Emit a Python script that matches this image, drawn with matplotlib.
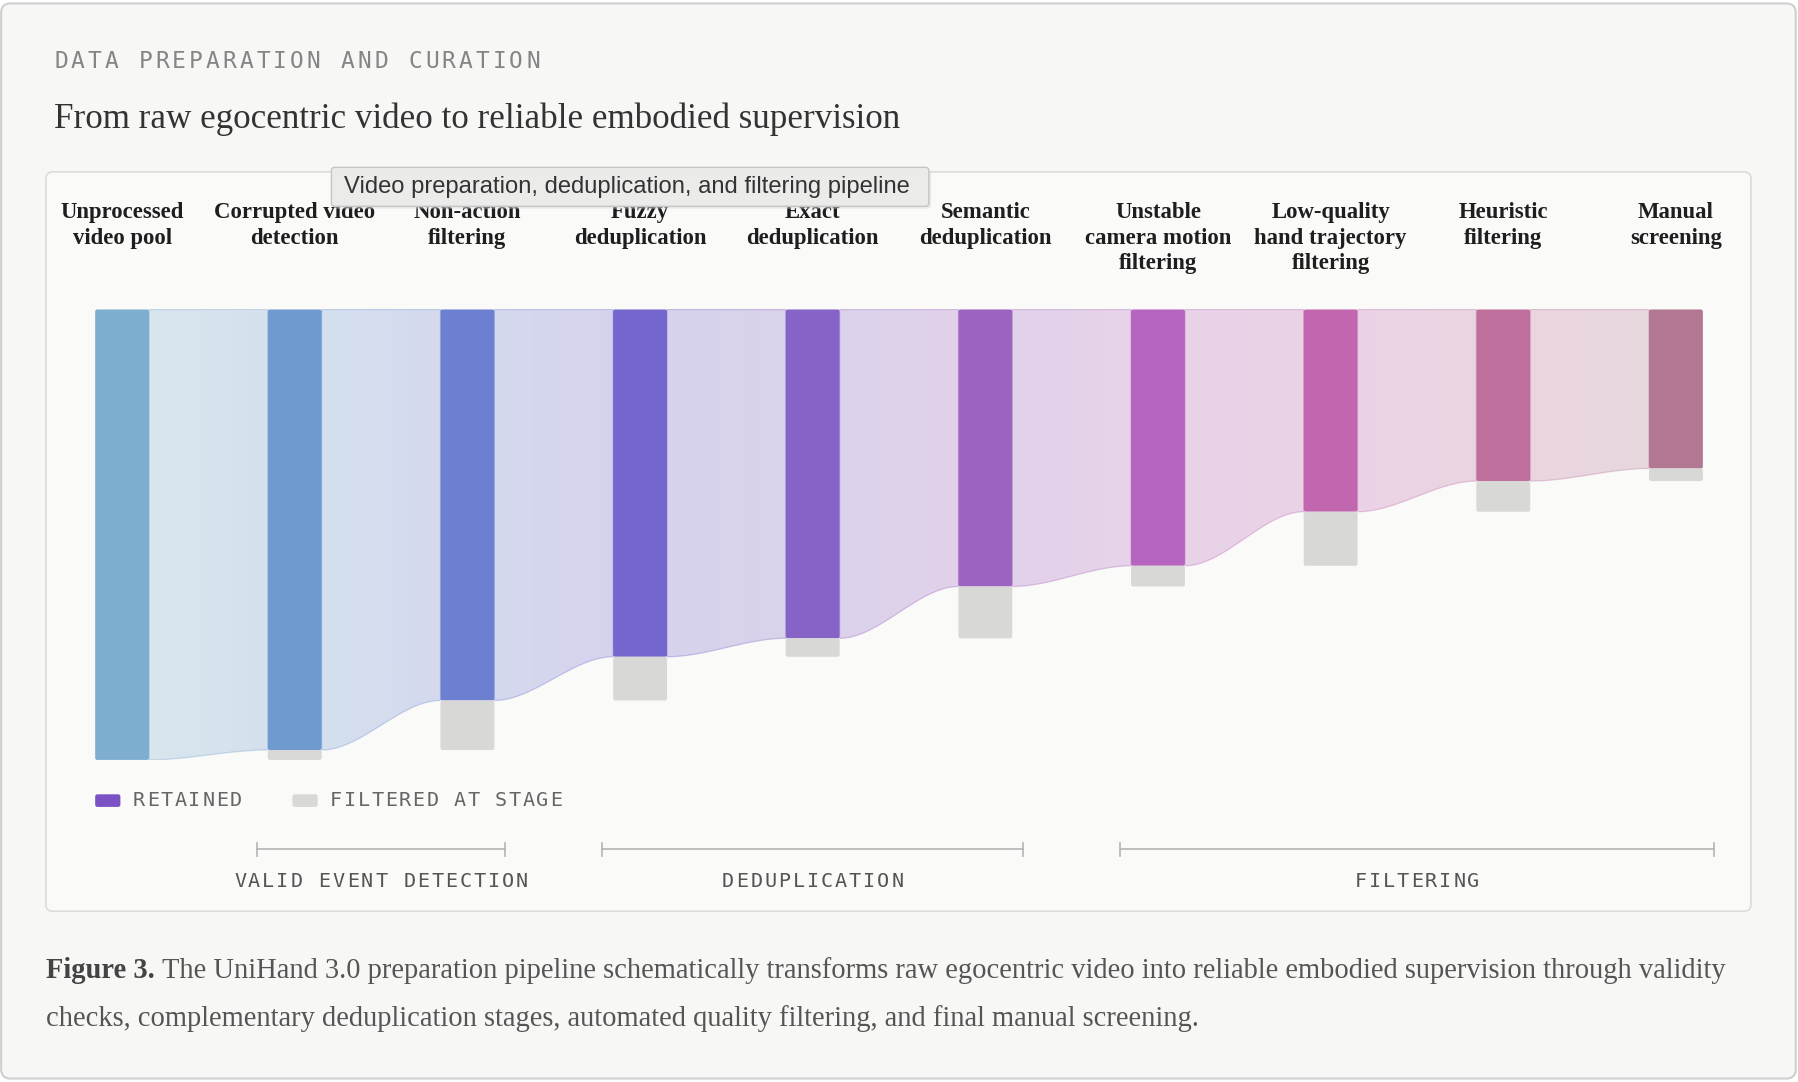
import matplotlib
matplotlib.use("Agg")
import matplotlib.pyplot as plt
import numpy as np
from matplotlib.patches import FancyBboxPatch, Polygon
from matplotlib.colors import to_rgb
from matplotlib.transforms import blended_transform_factory

# ---------------- data ----------------
stages = ["Unprocessed\nvideo pool", "Corrupted video\ndetection", "Non-action\nfiltering",
          "Fuzzy\ndeduplication", "Exact\ndeduplication", "Semantic\ndeduplication",
          "Unstable\ncamera motion\nfiltering", "Low-quality\nhand trajectory\nfiltering",
          "Heuristic\nfiltering", "Manual\nscreening"]
retained = [100, 97.8, 86.8, 77.1, 73.0, 61.5, 56.9, 44.9, 38.1, 35.3]   # % of raw pool
bar_colors = ["#7eaecf", "#6f9ad0", "#6d7fd0", "#7366cc", "#8663c6",
              "#9d63c0", "#b565bd", "#c267af", "#bf6f9c", "#b27893"]
groups = ["VALID EVENT DETECTION", "DEDUPLICATION", "FILTERING"]
group_stages = [(1, 2), (3, 5), (6, 9)]

header = "DATA PREPARATION AND CURATION"
title = "From raw egocentric video to reliable embodied supervision"
tooltip = "Video preparation, deduplication, and filtering pipeline"
cap_bold = "Figure 3."
cap_line1 = ("The UniHand 3.0 preparation pipeline schematically transforms raw egocentric video "
             "into reliable embodied supervision through validity")
cap_line2 = ("checks, complementary deduplication stages, automated quality filtering, "
             "and final manual screening.")

FILTER_C = "#d8d8d6"
SERIF = "Liberation Serif"
MONO = "DejaVu Sans Mono"

W, H = 1568, 944          # layout units (scaled page)
fig = plt.figure(figsize=(17.98, 10.82), dpi=100, facecolor="white")
bg = fig.add_axes([0, 0, 1, 1])
bg.set_xlim(0, W)
bg.set_ylim(H, 0)
bg.axis("off")
renderer = fig.canvas.get_renderer()
PX = 1798 / W


def fit(t, width):
    bb = t.get_window_extent(renderer)
    t.set_fontsize(t.get_fontsize() * width * PX / bb.width)
    return t.get_fontsize()


def spaced(x, y, s, adv, size, color, center=False):
    # monospace text with letter spacing, one glyph at a time
    x0 = x - adv * (len(s) - 1) / 2 if center else x + adv * 0.42
    for k, ch in enumerate(s):
        bg.text(x0 + k * adv, y, ch, ha="center", va="center", fontsize=size,
                family=MONO, color=color, zorder=5)


# cards
bg.add_patch(FancyBboxPatch((1, 3), W - 3, 938, boxstyle="round,pad=0,rounding_size=8",
                            fc="#f7f7f6", ec="#cfcfcf", lw=1.5, zorder=0))
bg.add_patch(FancyBboxPatch((40, 150), 1487, 645, boxstyle="round,pad=0,rounding_size=6",
                            fc="#fafaf9", ec="#dcdcdc", lw=1.2, zorder=1))

# header + title
spaced(47, 54, header, 14.7, 16.5, "#858585")
t = bg.text(47, 112, title, fontsize=24, family=SERIF, color="#333333", va="baseline", zorder=5)
fit(t, 738)

# ---------------- chart axes ----------------
step = 150.56
left = 106.5 - 0.5 * step
ax = fig.add_axes([left / W, 1 - 663 / H, 10 * step / W, 393 / H])
ax.set_zorder(2)
ax.patch.set_visible(False)
ax.axis("off")
n = len(retained)
bw = 47 / step
asp = (100 / 393) / (1 / step)

for i in range(n - 1):
    xl, xr = i + bw / 2, i + 1 - bw / 2
    tt = np.linspace(0, 1, 80)
    xs = xl + tt * (xr - xl)
    ys = retained[i] + (retained[i + 1] - retained[i]) * (3 * tt ** 2 - 2 * tt ** 3)
    verts = [(xl, 0), (xr, 0)] + list(zip(xs[::-1], ys[::-1]))
    c0, c1 = np.array(to_rgb(bar_colors[i])), np.array(to_rgb(bar_colors[i + 1]))
    f = np.linspace(0, 1, 256)[:, None]
    grad = np.ones((1, 256, 4))
    grad[0, :, :3] = c0 * (1 - f) + c1 * f
    grad[0, :, 3] = 0.27
    poly = Polygon(verts, closed=True, fc="none",
                   ec=tuple((c0 + c1) / 2) + (0.35,), lw=0.9, zorder=2)
    ax.add_patch(poly)
    im = ax.imshow(grad, extent=(xl, xr, 100, 0), aspect="auto",
                   interpolation="bilinear", zorder=1)
    im.set_clip_path(poly)

for i in range(n):
    ax.add_patch(FancyBboxPatch((i - bw / 2, 0), bw, retained[i],
                                boxstyle="round,pad=0,rounding_size=0.012",
                                mutation_aspect=asp, fc=bar_colors[i], ec="none", zorder=3))
    if i > 0:
        ax.add_patch(FancyBboxPatch((i - bw / 2, retained[i]), bw, retained[i - 1] - retained[i],
                                    boxstyle="round,pad=0,rounding_size=0.012",
                                    mutation_aspect=asp, fc=FILTER_C, ec="none", zorder=3))
ax.set_xlim(-0.5, n - 0.5)
ax.set_ylim(100, 0)

# stage labels
xb = blended_transform_factory(ax.transData, bg.transData)
label_texts = []
for i, lab in enumerate(stages):
    t = bg.text(i, 176, lab, transform=xb, ha="center", va="top", multialignment="center",
                fontsize=15, fontweight="bold", family=SERIF, color="#1e1e1e",
                linespacing=1.3, zorder=5)
    label_texts.append(t)
size = fit(label_texts[1], 141)
for tx in label_texts:
    tx.set_fontsize(size)

# tooltip
bg.add_patch(FancyBboxPatch((291, 148), 521, 34, boxstyle="round,pad=0,rounding_size=3",
                            fc="#d9d9d9", ec="none", alpha=0.5, zorder=7))
bg.add_patch(FancyBboxPatch((289, 146), 521, 34, boxstyle="round,pad=0,rounding_size=3",
                            fc="#ebebea", ec="#c6c6c6", lw=1.0, zorder=8))
t = bg.text(300, 163, tooltip, fontsize=14, family="Liberation Sans", color="#333333",
            va="center", zorder=9)
fit(t, 497)

# legend
bg.add_patch(FancyBboxPatch((83, 693), 22, 11, boxstyle="round,pad=0,rounding_size=2",
                            fc="#7b52c4", ec="none", zorder=5))
spaced(116, 698, "RETAINED", 12.1, 14.5, "#666666")
bg.add_patch(FancyBboxPatch((255, 693), 22, 11, boxstyle="round,pad=0,rounding_size=2",
                            fc=FILTER_C, ec="none", zorder=5))
spaced(288, 698, "FILTERED AT STAGE", 12.0, 14.5, "#666666")

# group brackets
for name, (a, b) in zip(groups, group_stages):
    x0, x1 = a - 0.22, b + 0.22
    bg.plot([x0, x1], [741, 741], transform=xb, color="#b4b4b4", lw=1.2, zorder=4)
    for xx in (x0, x1):
        bg.plot([xx, xx], [735.5, 746.5], transform=xb, color="#b4b4b4", lw=1.2, zorder=4)
    xc = ax.transData.transform(((x0 + x1) / 2, 0))[0]
    xc = bg.transData.inverted().transform((xc, 0))[0]
    spaced(xc, 769, name, 12.3, 14.5, "#555555", center=True)

# caption
t2 = bg.text(40, 895, cap_line2, fontsize=18, family=SERIF, color="#555555",
             va="baseline", zorder=5)
cs = fit(t2, 1011)
tb = bg.text(40, 853, cap_bold, fontsize=cs, family=SERIF, fontweight="bold",
             color="#444444", va="baseline", zorder=5)
bw_px = tb.get_window_extent(renderer).width / PX
bg.text(40 + bw_px + 0.3 * cs, 853, cap_line1, fontsize=cs, family=SERIF, color="#555555",
        va="baseline", zorder=5)

fig.savefig("out.png", dpi=100, facecolor=fig.get_facecolor())
